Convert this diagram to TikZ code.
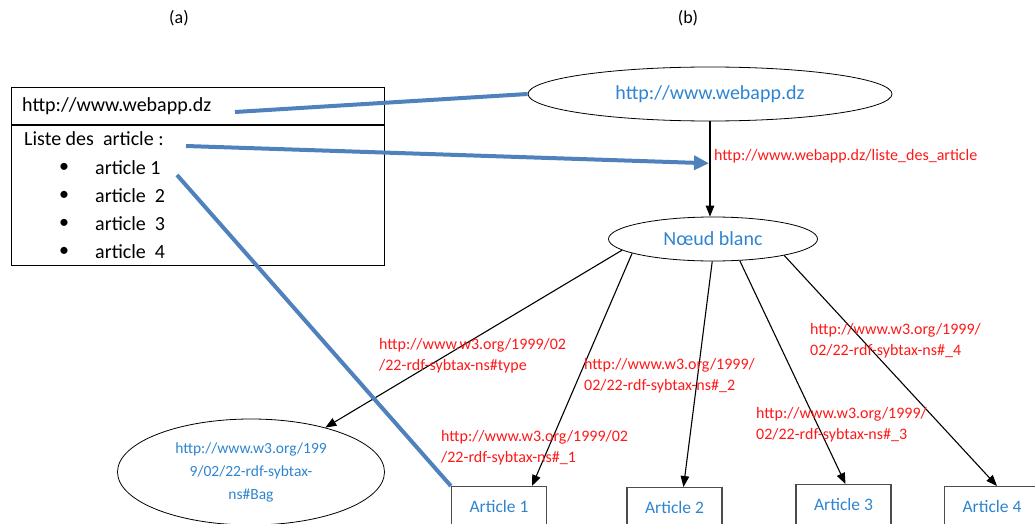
\documentclass[tikz,border=0pt]{standalone}
\usepackage{fontspec}
\setmainfont{Carlito}
\usetikzlibrary{shapes.geometric,arrows.meta,calc}
\definecolor{linkblue}{RGB}{46,132,208}
\definecolor{connblue}{RGB}{79,129,189}
\definecolor{labred}{RGB}{255,24,24}
\begin{document}
\begin{tikzpicture}[x=1pt,y=-1pt,
  res/.style={ellipse, draw, line width=0.8pt, inner sep=0pt, text=linkblue,
    font=\fontsize{20}{24}\selectfont},
  artbox/.style={rectangle, draw=black!70, line width=1.2pt, minimum width=95pt,
    minimum height=40pt, anchor=north, inner sep=0pt, text=linkblue,
    font=\fontsize{17.5}{21}\selectfont},
  pred/.style={text=labred, font=\fontsize{16}{21}\selectfont, align=left,
    anchor=west, inner sep=0pt},
  rel/.style={draw, line width=1.1pt, -{Triangle[length=11pt,width=8.5pt]}},
  link/.style={draw=connblue, line width=4pt},
  listtxt/.style={anchor=west, inner sep=0pt, font=\fontsize{20}{24}\selectfont},
  caption/.style={inner sep=0pt, font=\fontsize{18}{22}\selectfont}]
\useasboundingbox (0,0) rectangle (1035,524);
\clip (0,0) rectangle (1035,524);

% panel captions
\node[caption] (capa) at (179,18) {(a)};
\node[caption] (capb) at (688,18) {(b)};

% (a) the page content
\node[draw, line width=1pt, minimum width=373pt, minimum height=178pt,
  anchor=north west, inner sep=0pt] (panel) at (11,87) {};
\draw[line width=1pt] (panel.north west |- 0,125) -- (panel.north east |- 0,125);
\node[listtxt] (urlA) at (22,106) {http://www.webapp.dz};
\node[listtxt] (liste) at (24,139) {Liste des\ \ article :};
\foreach \i/\y/\t in {1/168/{article 1},2/196/{article\ \ 2},3/224/{article\ \ 3},4/252/{article\ \ 4}}{
  \node[listtxt, anchor=center] (bul\i) at (64,\y) {•};
  \node[listtxt] (item\i) at (95,\y) {\t};
}

% (b) the RDF graph
\node[res, minimum width=364pt, minimum height=54pt] (web) at (710,94) {http://www.webapp.dz};
\node[res, minimum width=209pt, minimum height=44pt] (blank) at (713,239) {Nœud blanc};
\node[res, minimum width=267pt, minimum height=106pt, align=center,
  font=\fontsize{15.5}{23}\selectfont] (bag) at (251,472)
  {http://www.w3.org/199\\9/02/22-rdf-sybtax-\\ns\#Bag};

\node[artbox] (art1) at (499,486) {Article 1};
\node[artbox] (art2) at (674.5,487) {Article 2};
\node[artbox] (art3) at (843.5,484) {Article 3};
\node[artbox] (art4) at (992,486) {Article 4};

% properties
\draw[rel] (web.south) -- (web.south |- blank.north);
\draw[rel] (blank.187) -- (bag);
\draw[rel] (blank.190) -- ([xshift=33pt]art1.north);
\draw[rel] (blank.268) -- ([xshift=9pt]art2.north);
\draw[rel] (blank.321) -- ([xshift=2pt]art3.north);
\draw[rel] (blank.347) -- ([xshift=5pt]art4.north);

\node[pred] (p0) at (714,156) {http://www.webapp.dz/liste\_des\_article};
\node[pred] (pt) at (379,355.5) {http://www.w3.org/1999/02\\/22-rdf-sybtax-ns\#type};
\node[pred] (p1) at (441,447.5) {http://www.w3.org/1999/02\\/22-rdf-sybtax-ns\#\_1};
\node[pred] (p2) at (584,376) {http://www.w3.org/1999/\\02/22-rdf-sybtax-ns\#\_2};
\node[pred] (p3) at (756,425) {http://www.w3.org/1999/\\02/22-rdf-sybtax-ns\#\_3};
\node[pred] (p4) at (810,341) {http://www.w3.org/1999/\\02/22-rdf-sybtax-ns\#\_4};

% correspondences between (a) and (b)
\coordinate (s1) at (235,112);
\coordinate (s2) at (186,146);
\coordinate (s3) at (177,175);
\coordinate (hit) at ($(web.south)!0.44!(web.south |- blank.north)$);
\draw[link] (s1) -- (web.west);
\draw[link, -{Triangle[length=15pt,width=14pt]}] (s2) -- ([xshift=-1pt]hit);
\draw[link] (s3) -- (art1.north west);
\end{tikzpicture}
\end{document}
